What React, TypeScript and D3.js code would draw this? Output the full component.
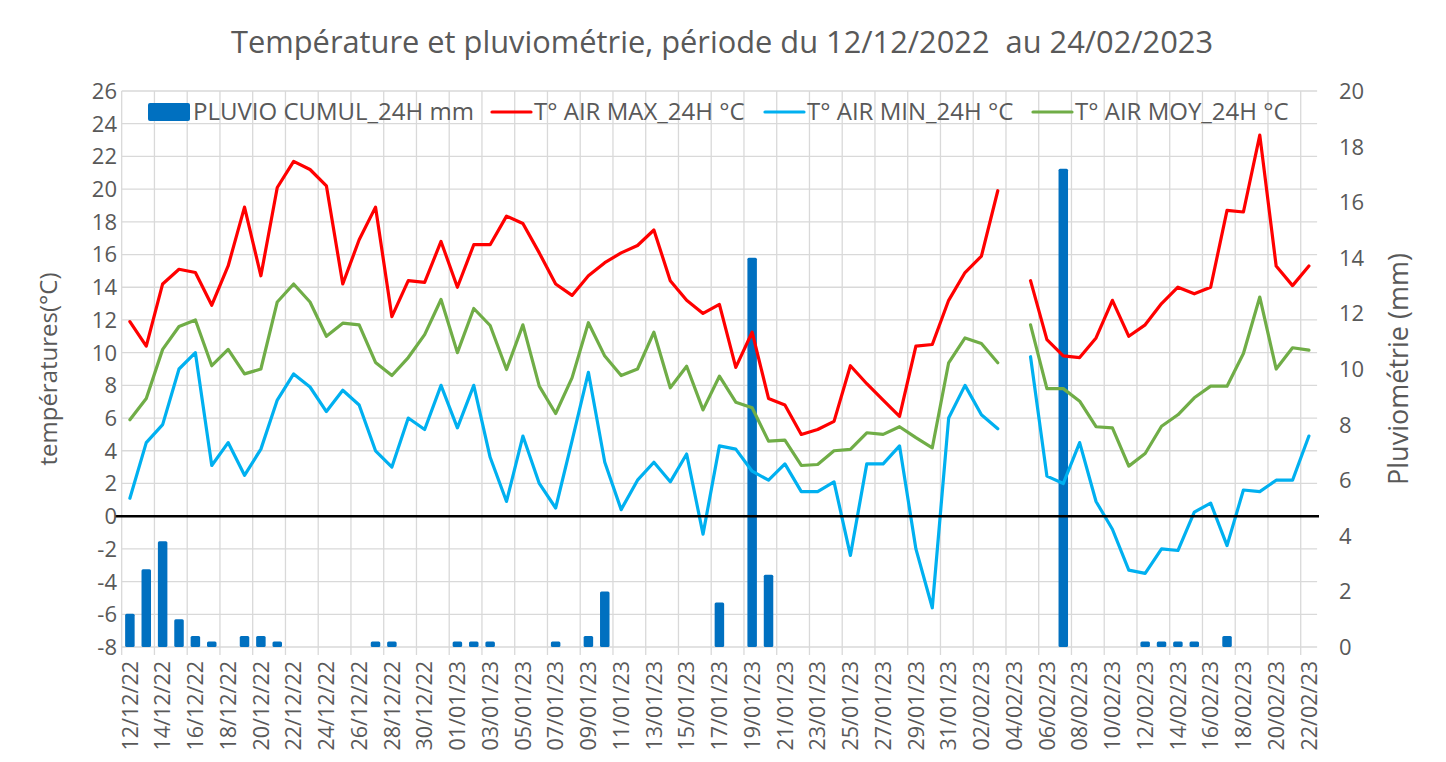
import * as d3 from "d3";

const WIDTH = 1446;
const HEIGHT = 762;
const PLOT = { left: 121.7, right: 1317.1, top: 91, bottom: 647 };
const FONT = "'Open Sans', 'Noto Sans', sans-serif";
const TEXT_COLOR = "#595959";
const GRID_COLOR = "#D9D9D9";

// categories: every day from 12/12/2022 to 22/02/2023
const DAYS = d3.timeDay.range(new Date(2022, 11, 12), new Date(2023, 1, 23));
const fmt = d3.timeFormat("%d/%m/%y");
const LABELS = DAYS.map((d) => fmt(d));

const RAIN = [
  1.2, 2.8, 3.8, 1.0, 0.4, 0.2, 0, 0.4, 0.4, 0.2,
  0, 0, 0, 0, 0, 0.2, 0.2, 0, 0, 0,
  0.2, 0.2, 0.2, 0, 0, 0, 0.2, 0, 0.4, 2.0,
  0, 0, 0, 0, 0, 0, 1.6, 0, 14.0, 2.6,
  0, 0, 0, 0, 0, 0, 0, 0, 0, 0,
  0, 0, 0, 0, 0, 0, 0, 17.2, 0, 0,
  0, 0, 0.2, 0.2, 0.2, 0.2, 0, 0.4, 0, 0,
  0, 0, 0,
];

const T_MAX: (number | null)[] = [
  11.9, 10.4, 14.2, 15.1, 14.9, 12.9, 15.3, 18.9, 14.7, 20.1,
  21.7, 21.2, 20.2, 14.2, 16.9, 18.9, 12.2, 14.4, 14.3, 16.8,
  14.0, 16.6, 16.6, 18.35, 17.9, 16.1, 14.2, 13.5, 14.7, 15.5,
  16.1, 16.55, 17.5, 14.4, 13.2, 12.4, 12.95, 9.1, 11.25, 7.2,
  6.8, 5.0, 5.3, 5.8, 9.2, 8.1, 7.1, 6.1, 10.4, 10.5,
  13.2, 14.9, 15.9, 19.9, null, 14.4, 10.8, 9.8, 9.7, 10.9,
  13.2, 11.0, 11.7, 13.0, 14.0, 13.6, 14.0, 18.7, 18.6, 23.3,
  15.3, 14.1, 15.3,
];

const T_MIN: (number | null)[] = [
  1.1, 4.5, 5.6, 9.0, 10.0, 3.1, 4.5, 2.5, 4.1, 7.1,
  8.7, 7.9, 6.4, 7.7, 6.8, 4.0, 3.0, 6.0, 5.3, 8.0,
  5.4, 8.0, 3.6, 0.9, 4.9, 2.0, 0.5, 4.6, 8.8, 3.3,
  0.4, 2.2, 3.3, 2.1, 3.8, -1.1, 4.3, 4.1, 2.75, 2.2,
  3.2, 1.5, 1.5, 2.1, -2.4, 3.2, 3.2, 4.3, -2.0, -5.6,
  6.0, 8.0, 6.2, 5.35, null, 9.75, 2.45, 2.0, 4.5, 0.9,
  -0.8, -3.3, -3.5, -2.0, -2.1, 0.25, 0.8, -1.8, 1.6, 1.5,
  2.2, 2.2, 4.9,
];

const T_MOY: (number | null)[] = [
  5.9, 7.2, 10.2, 11.6, 12.0, 9.2, 10.2, 8.7, 9.0, 13.1,
  14.2, 13.1, 11.0, 11.8, 11.7, 9.4, 8.6, 9.7, 11.1, 13.25,
  10.0, 12.7, 11.66, 8.97, 11.7, 7.95, 6.28, 8.46, 11.83, 9.79,
  8.6, 9.0, 11.25, 7.85, 9.17, 6.5, 8.56, 6.97, 6.63, 4.59,
  4.65, 3.1, 3.16, 4.0, 4.08, 5.1, 5.0, 5.47, 4.8, 4.18,
  9.38, 10.9, 10.56, 9.38, null, 11.7, 7.8, 7.8, 7.03, 5.47,
  5.4, 3.06, 3.83, 5.5, 6.2, 7.24, 7.95, 7.95, 9.95, 13.4,
  9.0, 10.3, 10.15,
];

const LEFT_TICKS = d3.range(-8, 27, 2);
const RIGHT_TICKS = d3.range(0, 21, 2);

const SERIES = [
  { name: "T° AIR MAX_24H °C", values: T_MAX, color: "#FF0000" },
  { name: "T° AIR MIN_24H °C", values: T_MIN, color: "#00B0F0" },
  { name: "T° AIR MOY_24H °C", values: T_MOY, color: "#70AD47" },
];

export default function App() {
  const x = d3.scaleBand<string>().domain(LABELS).range([PLOT.left, PLOT.right]);
  const bw = x.bandwidth();
  const cx = (i: number) => (x(LABELS[i]) ?? 0) + bw / 2;
  const yL = d3.scaleLinear().domain([-8, 26]).range([PLOT.bottom, PLOT.top]);
  const yR = d3.scaleLinear().domain([0, 20]).range([PLOT.bottom, PLOT.top]);

  const line = d3
    .line<number | null>()
    .defined((d) => d !== null)
    .x((_, i) => cx(i))
    .y((d) => yL(d as number));

  const barW = bw * 0.58;
  // vertical gridlines every two days, starting at the left edge
  const vGrid = LABELS.map((_, i) => i).filter((i) => i % 2 === 0).map((i) => x(LABELS[i]) ?? 0);

  return (
    <svg
      width={WIDTH}
      height={HEIGHT}
      style={{ position: "absolute", left: 0, top: 0, background: "#fff" }}
      fontFamily={FONT}
    >
      <text
        x={722}
        y={53}
        textAnchor="middle"
        fontSize={30.8}
        fill={TEXT_COLOR}
        style={{ whiteSpace: "pre" }}
      >
        {"Température et pluviométrie, période du 12/12/2022  au 24/02/2023"}
      </text>

      {/* grid */}
      <g stroke={GRID_COLOR} strokeWidth={1.3}>
        {LEFT_TICKS.map((t) => (
          <line key={`h${t}`} x1={PLOT.left} x2={PLOT.right} y1={yL(t)} y2={yL(t)} />
        ))}
        {vGrid.map((gx, i) => (
          <line key={`v${i}`} x1={gx} x2={gx} y1={PLOT.top} y2={PLOT.bottom + 8} />
        ))}
      </g>

      {/* rain bars */}
      {RAIN.map((r, i) =>
        r > 0 ? (
          <rect
            key={`b${i}`}
            x={cx(i) - barW / 2}
            y={yR(r)}
            width={barW}
            height={PLOT.bottom - yR(r)}
            rx={1.5}
            fill="#0070C0"
          />
        ) : null
      )}

      {/* temperature lines */}
      {SERIES.map((s) => (
        <path
          key={s.name}
          d={line(s.values) ?? ""}
          fill="none"
          stroke={s.color}
          strokeWidth={3.2}
          strokeLinejoin="round"
          strokeLinecap="round"
        />
      ))}

      {/* zero line */}
      <line x1={115} x2={1319} y1={yL(0)} y2={yL(0)} stroke="#000" strokeWidth={2.6} />

      {/* left ticks */}
      {LEFT_TICKS.map((t) => (
        <text
          key={`lt${t}`}
          x={117}
          y={yL(t)}
          dy="0.36em"
          textAnchor="end"
          fontSize={22}
          fill={TEXT_COLOR}
        >
          {t}
        </text>
      ))}
      {/* right ticks */}
      {RIGHT_TICKS.map((t) => (
        <text
          key={`rt${t}`}
          x={1339}
          y={yR(t)}
          dy="0.36em"
          textAnchor="start"
          fontSize={22}
          fill={TEXT_COLOR}
        >
          {t}
        </text>
      ))}

      {/* x labels */}
      {LABELS.map((l, i) =>
        i % 2 === 0 ? (
          <text
            key={`xl${i}`}
            transform={`translate(${cx(i)},${661}) rotate(-90)`}
            dy="0.36em"
            textAnchor="end"
            fontSize={21.5}
            fill={TEXT_COLOR}
          >
            {l}
          </text>
        ) : null
      )}

      {/* axis titles */}
      <text
        transform="translate(48,369) rotate(-90)"
        dy="0.36em"
        textAnchor="middle"
        fontSize={24}
        fill={TEXT_COLOR}
      >
        températures(°C)
      </text>
      <text
        transform="translate(1398,369) rotate(-90)"
        dy="0.36em"
        textAnchor="middle"
        fontSize={27}
        fill={TEXT_COLOR}
      >
        Pluviométrie (mm)
      </text>

      {/* legend */}
      <g fontSize={24} fill={TEXT_COLOR}>
        <rect x={148} y={103} width={42} height={18} rx={2} fill="#0070C0" />
        <text x={193} y={120}>PLUVIO CUMUL_24H mm</text>
        {SERIES.map((s, i) => {
          const lx = [492, 765, 1033][i];
          return (
            <g key={`lg${i}`}>
              <line x1={lx} x2={lx + 39} y1={112} y2={112} stroke={s.color} strokeWidth={3.2} strokeLinecap="round" />
              <text x={lx + 42} y={120}>{s.name}</text>
            </g>
          );
        })}
      </g>
    </svg>
  );
}
